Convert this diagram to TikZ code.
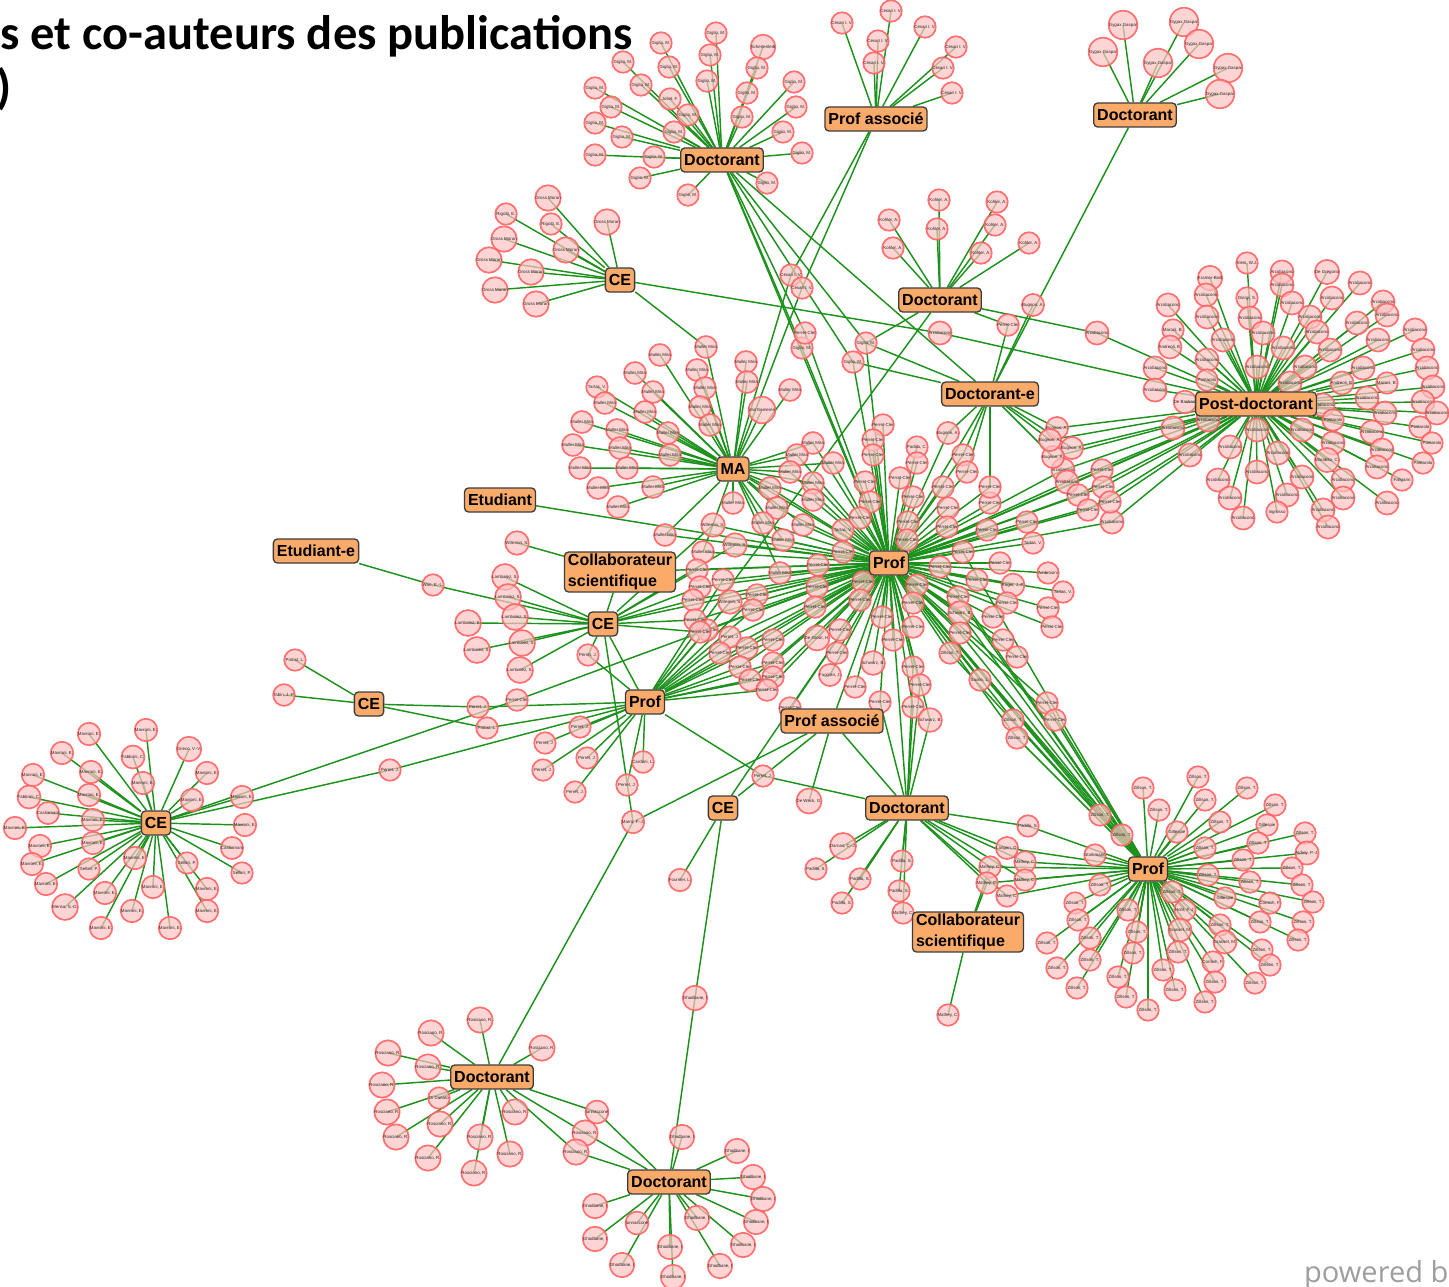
\documentclass[tikz,border=0pt]{standalone}
\usepackage{fontspec}
\setmainfont{Liberation Sans}
\newfontfamily\titlefont{Carlito}
\newfontfamily\pwfont{Open Sans}
\pgfdeclarelayer{bg}\pgfdeclarelayer{fg}\pgfsetlayers{bg,main,fg}
\definecolor{edgegreen}{RGB}{28,145,28}
\definecolor{leafpink}{RGB}{255,195,195}
\definecolor{leafred}{RGB}{255,100,100}
\definecolor{hubfill}{RGB}{250,170,105}
\definecolor{hubline}{RGB}{60,60,60}
\tikzset{
 edge/.style={draw=edgegreen, line width=1.45pt},
 leaf/.style={circle, minimum size=21.5pt, inner sep=0pt, draw=leafred, line width=1.7pt, fill=leafpink, fill opacity=0.7, draw opacity=0.9, text opacity=1, text=black!85, font=\fontsize{4.4}{5}\selectfont},
 hub/.style={rectangle, rounded corners=4pt, draw=hubline, line width=1.3pt, fill=hubfill, inner xsep=3.5pt, inner ysep=2pt, minimum height=24pt, font=\bfseries\fontsize{16}{21}\selectfont, text=black},
}
\newcommand\mkleaves[2]{\foreach \x/\y/\t [count=\i] in #2 {\node[leaf] (#1\i) at (\x,\y) {\t};}}
\newcommand\mkedges[3]{\foreach \x/\y/\t [count=\i] in #3 {\draw[edge] (#1) -- (#2\i.center);}}
\newcommand\hublinks[1]{\foreach \a/\b in {#1}{\draw[edge] (\a) -- (\b);}}
\def\nmGM{Giglio, M.}\def\nmCI{Cesari I. V.}\def\nmGG{Gygax Gaspar}\def\nmGR{Gross Moran}
\def\nmRI{Rigotti, E.}\def\nmKO{Kohler, A.}\def\nmAR{Arcidiacono}\def\nmMM{Muller Mira}
\def\nmPC{Perret-Cler}\def\nmTA{Tartas, V.}\def\nmLA{Lambalez, S.}\def\nmPJ{Perret, J.}
\def\nmZT{Zillson, T.}\def\nmMV{Mavroni, E.}\def\nmRO{Rosciano, R.}\def\nmGH{Ghodbane, I}
\def\nmPS{Padilla, S.}\def\nmMC{Mathey, C.}\def\nmBU{Bugnon, A.}\def\nmWS{Willemin, S.}
\def\nmPO{Pontarolo}\def\nmSE{Sellari, P.}\def\nmCA{Castiamani}\def\nmFC{Fabbrini, C.}
\def\nmGI{Gillespie}\def\nmGA{Grasset, M.}\def\nmCO{Cornish, F.}\def\nmSB{Schwarz, B.}
\def\nmIA{Iannaccone}\def\nmSch{Schertenleib}\def\nmJF{Jollet, F.}\def\nmKW{Klein, W.J.}
\def\nmKB{Kramer-Baill}\def\nmDGr{De Gregorio}\def\nmGS{Giorgi, S.}\def\nmMB{Maroni, B.}
\def\nmAB{Andreoli, B.}\def\nmDB{De Bastiani}\def\nmMoC{Morabito, C.}\def\nmFal{Faligarin}
\def\nmIng{Ingrosso}\def\nmGV{Grieco, V.-V.}\def\nmMS{Mensa, S.-D.}\def\nmAP{Aldrey, P.-J.}
\def\nmSt{Starkmann}\def\nmHF{Hohl, F.-J.}\def\nmVE{Van Eemeren}\def\nmPaC{Padilla, C.}
\def\nmAm{Ambrosini}\def\nmRJ{Roger, J.-P.}\def\nmDGH{De Groot, H.}\def\nmFJ{Fuggian, J.}
\def\nmSL{Saxon, L.}\def\nmLO{Langen, O.}\def\nmDC{Darnas, C.-J.}\def\nmDD{Di Donato}
\def\nmWE{Wan, E.-L.}\def\nmPL{Probst, L.}\def\nmTJ{Tabin, J.-P.}\def\nmMF{Marro, F.-J.}
\def\nmDW{De Weck, G.}\def\nmFL{Fournier, L.}\def\nmCL{Cardoni, L.}
% leaf lists
\def\lsG{716/33/\nmGM, 661/43/\nmGM, 763/47/\nmSch, 623/62/\nmGM, 710/55/\nmGM, 669/67/\nmGM, 757/68/\nmGM, 794/82/\nmGM, 595/88/\nmGM, 641/85/\nmGM, 707/81/\nmGM, 670/99/\nmJF, 747/93/\nmGM, 796/107/\nmGM, 611/107/\nmGM, 688/115/\nmGM, 742/117/\nmGM, 595/123/\nmGM, 622/137/\nmGM, 674/132/\nmGM, 783/132/\nmGM, 595/155/\nmGM, 654/157/\nmGM, 802/153/\nmGM, 640/178/\nmGM, 767/183/\nmGM, 688/195/\nmGM}
\def\lsC{842/23/\nmCI, 891/11/\nmCI, 925/27/\nmCI, 878/41/\nmCI, 956/47/\nmCI, 874/63/\nmCI, 943/68/\nmCI, 952/93/\nmCI}
\def\lsCI{791/275/\nmCI, 802/288/\nmCI}
\def\lsY{1123/25/\nmGG, 1184/22/\nmGG, 1103/52/\nmGG, 1199/44/\nmGG, 1158/63/\nmGG, 1228/68/\nmGG, 1220/94/\nmGG}
\def\lsR{548/198/\nmGR, 506/214/\nmRI, 607/222/\nmGR, 551/224/\nmRI, 504/239/\nmGR, 566/250/\nmGR, 489/260/\nmGR, 531/272/\nmGR, 495/290/\nmGR, 536/304/\nmGR}
\def\lsK{939/200/\nmKO, 997/202/\nmKO, 889/220/\nmKO, 937/229/\nmKO, 995/225/\nmKO, 893/248/\nmKO, 1029/243/\nmKO, 981/253/\nmKO}
\def\lsAK{1097/333/\nmAR}
\def\lsAG{940/333/\nmAR}
\def\lsBK{1033/305/\nmBU}
\def\lsPK{1008/325/\nmPC}
\def\lsA{1247/263/\nmKW, 1210/278/\nmKB, 1282/272/\nmAR, 1327/272/\nmDGr, 1282/285/\nmAR, 1206/295/\nmAR, 1360/283/\nmAR, 1168/305/\nmAR, 1247/298/\nmGS, 1292/303/\nmAR, 1332/298/\nmAR, 1383/302/\nmAR, 1207/317/\nmAR, 1250/318/\nmAR, 1310/317/\nmAR, 1173/330/\nmMB, 1263/333/\nmAR, 1357/323/\nmAR, 1387/315/\nmAR, 1415/330/\nmAR, 1317/332/\nmAR, 1170/347/\nmAB, 1223/340/\nmAR, 1283/348/\nmAR, 1330/350/\nmAR, 1378/340/\nmAR, 1423/350/\nmAR, 1207/360/\nmAR, 1155/368/\nmAR, 1257/367/\nmAR, 1305/367/\nmAR, 1363/368/\nmAR, 1427/368/\nmAR, 1342/383/\nmAB, 1387/383/\nmMB, 1207/380/\nmPO, 1155/390/\nmAR, 1290/383/\nmAR, 1433/387/\nmAR, 1367/398/\nmAR, 1423/402/\nmAR, 1437/413/\nmAR, 1185/402/\nmDB, 1323/405/\nmAR, 1173/428/\nmAR, 1208/420/\nmAR, 1257/430/\nmAR, 1302/430/\nmAR, 1333/420/\nmPO, 1385/413/\nmAR, 1420/427/\nmPO, 1372/432/\nmAR, 1190/455/\nmAR, 1230/447/\nmAR, 1278/453/\nmAR, 1333/443/\nmAR, 1382/450/\nmAR, 1432/443/\nmPO, 1327/460/\nmMoC, 1377/467/\nmAR, 1423/463/\nmPO, 1257/472/\nmAR, 1302/477/\nmAR, 1218/480/\nmAR, 1343/480/\nmAR, 1402/480/\nmFal, 1287/495/\nmAR, 1230/498/\nmAR, 1277/512/\nmIng, 1343/498/\nmAR, 1387/503/\nmAR, 1323/510/\nmAR, 1243/518/\nmAR, 1328/527/\nmAR}
\def\lsQP{1063/470/\nmAR, 1067/482/\nmAR, 1112/522/\nmAR, 1102/470/\nmPC, 1103/487/\nmPC, 1110/502/\nmPC, 1078/495/\nmPC, 1088/510/\nmPC}
\def\lsBU{1057/428/\nmBU, 1072/448/\nmBU, 1053/457/\nmBU, 1050/440/\nmBU}
\def\lsM{706/347/\nmMM, 660/355/\nmMM, 697/370/\nmMM, 746/362/\nmMM, 635/373/\nmMM, 653/392/\nmMM, 705/388/\nmMM, 747/382/\nmMM, 790/390/\nmMM, 597/387/\nmTA, 605/403/\nmMM, 645/412/\nmMM, 700/407/\nmMM, 762/410/\nmVE, 582/422/\nmMM, 617/430/\nmMM, 710/425/\nmMM, 668/433/\nmMM, 573/445/\nmMM, 620/448/\nmMM, 670/455/\nmMM, 580/468/\nmMM, 627/468/\nmMM, 598/488/\nmMM, 653/487/\nmMM, 618/507/\nmMM, 733/503/\nmMM}
\def\lsMP{813/443/\nmMM, 797/455/\nmMM, 833/463/\nmMM, 790/472/\nmMM, 813/483/\nmMM, 770/488/\nmMM, 813/500/\nmMM, 777/508/\nmMM, 763/523/\nmMM, 803/525/\nmMM, 783/540/\nmMM, 780/573/\nmMM, 665/535/\nmMM, 703/552/\nmMM}
\def\lsP{883/425/\nmPC, 873/440/\nmPC, 917/447/\nmPaC, 873/455/\nmPC, 917/463/\nmPC, 900/478/\nmPC, 865/482/\nmPC, 943/487/\nmPC, 913/497/\nmPC, 870/502/\nmPC, 948/508/\nmPC, 990/503/\nmPC, 860/518/\nmPC, 908/522/\nmPC, 947/527/\nmPC, 1027/522/\nmPC, 987/530/\nmPC, 843/530/\nmTA, 907/540/\nmPC, 1033/543/\nmTA, 843/552/\nmPC, 1000/563/\nmPC, 818/565/\nmPC, 1048/573/\nmAm, 977/580/\nmPC, 863/582/\nmPC, 917/585/\nmPC, 1013/585/\nmRJ, 817/587/\nmPC, 1063/592/\nmTA, 860/600/\nmPC, 1007/603/\nmPC, 913/603/\nmPC, 815/607/\nmPC, 1048/608/\nmPC, 882/617/\nmPC, 993/617/\nmPC, 1052/627/\nmPC, 913/627/\nmPC, 840/630/\nmPC, 1003/640/\nmPC, 817/638/\nmDGH, 893/640/\nmPC, 1017/657/\nmPC, 837/653/\nmPC, 830/675/\nmFJ, 873/663/\nmSB, 980/680/\nmSL, 855/687/\nmPC, 790/708/\nmPC}
\def\lsDEP{948/433/\nmBU, 963/455/\nmPC, 967/472/\nmPC, 990/487/\nmPC}
\def\lsPRP{940/567/\nmPC, 963/552/\nmPC, 958/597/\nmPC, 960/613/\nmSB, 960/633/\nmPC, 950/653/\nmZT, 1013/720/\nmZT, 1017/738/\nmZT, 1047/703/\nmPC, 1055/720/\nmPC, 1100/815/\nmZT, 1122/835/\nmZT}
\def\lsDLP{913/667/\nmPC, 920/685/\nmPC, 880/702/\nmPC, 913/707/\nmPC, 930/720/\nmSB}
\def\lsDGP{866/343/\nmGM, 853/362/\nmGM, 802/348/\nmGM, 805/333/\nmPC}
\def\lsXP{723/580/\nmPC, 757/595/\nmPC, 730/602/\nmWS, 753/610/\nmPC, 707/630/\nmPC, 730/637/\nmPJ, 773/640/\nmPC, 747/648/\nmPC, 720/653/\nmPC, 740/667/\nmPC, 773/663/\nmPC, 750/680/\nmPC, 773/677/\nmPC, 767/690/\nmPC}
\def\lsWP{713/525/\nmWS, 735/545/\nmWS, 697/570/\nmPC, 700/587/\nmPC, 693/600/\nmPC, 695/620/\nmPC, 700/632/\nmPC}
\def\lsL{505/577/\nmLA, 508/597/\nmLA, 515/617/\nmLA, 468/623/\nmLA, 522/643/\nmLA, 477/650/\nmLA, 520/670/\nmLA}
\def\lsPJL{588/655/\nmPJ}
\def\lsWN{433/585/\nmWE}
\def\lsWI{517/543/\nmWS}
\def\lsCX{295/660/\nmPL, 284/695/\nmTJ}
\def\lsCY{478/707/\nmPJ, 487/728/\nmPL}
\def\lsCF{517/700/\nmPC}
\def\lsCG{390/770/\nmPJ}
\def\lsJ{580/727/\nmPJ, 545/743/\nmPJ, 587/758/\nmPJ, 543/770/\nmPJ, 575/792/\nmPJ, 643/762/\nmCL, 627/785/\nmPJ}
\def\lsPJ{763/776/\nmPJ}
\def\lsMR{633/822/\nmMF}
\def\lsDW{809/801/\nmDW}
\def\lsFO{680/880/\nmFL}
\def\lsGH{695/998/\nmGH}
\def\lsE{146/730/\nmMV, 89/734/\nmMV, 62/753/\nmMV, 133/757/\nmFC, 189/749/\nmGV, 33/775/\nmMV, 91/772/\nmMV, 207/773/\nmMV, 143/783/\nmMV, 29/797/\nmFC, 89/795/\nmMV, 192/800/\nmMV, 242/797/\nmMV, 48/813/\nmCA, 93/820/\nmMV, 15/828/\nmMV, 245/825/\nmMV, 40/846/\nmMV, 93/843/\nmMV, 232/848/\nmCA, 32/864/\nmMV, 89/869/\nmSE, 135/858/\nmMV, 187/863/\nmSE, 46/884/\nmMV, 242/873/\nmSE, 105/893/\nmMV, 153/887/\nmMV, 207/889/\nmMV, 65/907/\nmMS, 132/911/\nmMV, 207/911/\nmMV, 101/928/\nmMV, 170/928/\nmMV}
\def\lsD{843/846/\nmDC, 816/869/\nmPS, 902/861/\nmPS, 860/879/\nmPS, 899/891/\nmPS, 842/903/\nmPS, 903/913/\nmMC}
\def\lsMC{1028/826/\nmPS, 1007/848/\nmLO, 990/867/\nmMC, 1025/862/\nmMC, 987/883/\nmMC, 1025/880/\nmMC, 1007/896/\nmMC}
\def\lsMB{948/1015/\nmMC}
\def\lsZ{1198/777/\nmZT, 1143/788/\nmZT, 1247/788/\nmZT, 1205/800/\nmZT, 1159/810/\nmZT, 1275/805/\nmZT, 1220/822/\nmZT, 1267/825/\nmGI, 1177/832/\nmGI, 1305/833/\nmZT, 1258/843/\nmZT, 1205/848/\nmZT, 1307/853/\nmAP, 1095/855/\nmSt, 1243/860/\nmZT, 1292/868/\nmZT, 1208/875/\nmZT, 1250/882/\nmZT, 1100/885/\nmZT, 1302/885/\nmZT, 1172/892/\nmZT, 1313/902/\nmZT, 1225/898/\nmGI, 1075/903/\nmZT, 1185/910/\nmHF, 1270/903/\nmCO, 1128/910/\nmZT, 1260/922/\nmZT, 1303/922/\nmZT, 1078/920/\nmZT, 1180/930/\nmGA, 1137/932/\nmZT, 1220/925/\nmZT, 1090/938/\nmZT, 1225/942/\nmGA, 1298/940/\nmZT, 1047/943/\nmZT, 1133/953/\nmZT, 1178/952/\nmZT, 1262/950/\nmZT, 1090/960/\nmZT, 1057/968/\nmZT, 1213/962/\nmCO, 1270/965/\nmZT, 1118/977/\nmZT, 1163/970/\nmZT, 1215/982/\nmZT, 1175/990/\nmZT, 1255/983/\nmZT, 1077/988/\nmZT, 1126/997/\nmZT, 1205/1002/\nmZT, 1148/1010/\nmZT}
\def\lsB{480/1020/\nmRO, 431/1033/\nmRO, 542/1048/\nmRO, 388/1053/\nmRO, 428/1067/\nmRO, 382/1085/\nmRO, 439/1098/\nmDD, 387/1112/\nmRO, 515/1112/\nmRO, 440/1124/\nmRO, 396/1137/\nmRO, 480/1137/\nmRO, 510/1154/\nmRO, 428/1158/\nmRO, 474/1173/\nmRO}
\def\lsBB{597/1112/\nmIA, 585/1133/\nmRO, 576/1152/\nmRO}
\def\lsH{682/1137/\nmGH, 737/1151/\nmGH, 753/1177/\nmGH, 763/1199/\nmGH, 595/1206/\nmGH, 756/1222/\nmGH, 697/1218/\nmGH, 637/1223/\nmIA, 595/1239/\nmGH, 743/1245/\nmGH, 670/1247/\nmGH, 622/1265/\nmGH, 720/1266/\nmGH, 673/1277/\nmGH}
\begin{document}
\begin{tikzpicture}[x=1pt,y=-1pt]
\useasboundingbox (0,0) rectangle (1449,1287);
% hubs
\begin{pgfonlayer}{fg}
\node[hub] (DG) at (722,160) {Doctorant};
\node[hub] (PAT) at (876,119) {Prof associé};
\node[hub] (DGy) at (1135,115) {Doctorant};
\node[hub] (CEG) at (620,280) {CE};
\node[hub] (DK) at (940,300) {Doctorant};
\node[hub] (DE) at (990,394) {Doctorant-e};
\node[hub] (PD) at (1256,404) {Post-doctorant};
\node[hub] (MA) at (733,469) {MA};
\node[hub] (ET) at (500,500) {Etudiant};
\node[hub] (ETE) at (316,551) {Etudiant-e};
\node[hub, align=left] (CS1) at (620,572) {Collaborateur\\scientifique};
\node[hub] (P) at (889,563) {Prof};
\node[hub] (CEL) at (603,624) {CE};
\node[hub] (CES) at (369,704) {CE};
\node[hub] (PL) at (645,702) {Prof};
\node[hub] (PAL) at (832,721) {Prof associé};
\node[hub] (CEB) at (723,808) {CE};
\node[hub] (DL) at (907,808) {Doctorant};
\node[hub] (CEF) at (156,823) {CE};
\node[hub] (PR) at (1148,869) {Prof};
\node[hub, align=left] (CS2) at (968,932) {Collaborateur\\scientifique};
\node[hub] (DB1) at (492,1077) {Doctorant};
\node[hub] (DB2) at (669,1182) {Doctorant};
\end{pgfonlayer}
% title and footer
\node[anchor=base west, inner sep=0pt, font=\titlefont\bfseries\fontsize{48.5}{54}\selectfont] (title) at (0,50) {s et co-auteurs des publications};
\node[anchor=base east, inner sep=0pt, font=\titlefont\bfseries\fontsize{48.5}{54}\selectfont] (paren) at (12,104) {)};
\node[anchor=base west, inner sep=0pt, font=\pwfont\fontsize{29}{32}\selectfont, text=black!38] (powered) at (1304,1282) {powered b};
% leaves
\mkleaves{g}{\lsG}\mkleaves{c}{\lsC}\mkleaves{ci}{\lsCI}\mkleaves{y}{\lsY}
\mkleaves{r}{\lsR}\mkleaves{k}{\lsK}\mkleaves{ak}{\lsAK}\mkleaves{ag}{\lsAG}
\mkleaves{bk}{\lsBK}\mkleaves{pk}{\lsPK}\mkleaves{a}{\lsA}\mkleaves{qp}{\lsQP}
\mkleaves{bu}{\lsBU}\mkleaves{m}{\lsM}\mkleaves{mp}{\lsMP}\mkleaves{p}{\lsP}
\mkleaves{dep}{\lsDEP}\mkleaves{prp}{\lsPRP}\mkleaves{dlp}{\lsDLP}\mkleaves{dgp}{\lsDGP}
\mkleaves{xp}{\lsXP}\mkleaves{wp}{\lsWP}\mkleaves{l}{\lsL}\mkleaves{pjl}{\lsPJL}
\mkleaves{wn}{\lsWN}\mkleaves{wi}{\lsWI}\mkleaves{cx}{\lsCX}\mkleaves{cy}{\lsCY}
\mkleaves{cf}{\lsCF}\mkleaves{cg}{\lsCG}\mkleaves{j}{\lsJ}\mkleaves{pj}{\lsPJ}
\mkleaves{mr}{\lsMR}\mkleaves{dw}{\lsDW}\mkleaves{fo}{\lsFO}\mkleaves{gh}{\lsGH}
\mkleaves{e}{\lsE}\mkleaves{d}{\lsD}\mkleaves{mc}{\lsMC}\mkleaves{mb}{\lsMB}
\mkleaves{z}{\lsZ}\mkleaves{b}{\lsB}\mkleaves{bb}{\lsBB}\mkleaves{h}{\lsH}
% connectors
\begin{pgfonlayer}{bg}
\fill[white] (0,0) rectangle (1449,1287);
\hublinks{PD/P, DG/P, DG/DE, DGy/DE, DK/PL, ET/P, CS1/CEL, CS1/P, CEL/PL, CEL/P, PL/P, PAL/P, PAL/DL, PAL/CEB, CEB/P, DL/P, PR/P, MA/P, DE/P}
\hublinks{DK/dgp1.center, DE/dgp1.center, DE/dgp2.center, CEG/m1.center, DE/pk1.center, DB1/mr1.center, CS2/mc3.center, CS2/mc5.center}
\mkedges{DG}{g}{\lsG}\mkedges{PAT}{c}{\lsC}\mkedges{PAT}{ci}{\lsCI}\mkedges{MA}{ci}{\lsCI}
\mkedges{DGy}{y}{\lsY}\mkedges{CEG}{r}{\lsR}\mkedges{DK}{k}{\lsK}
\mkedges{DK}{ak}{\lsAK}\mkedges{PD}{ak}{\lsAK}\mkedges{CEG}{ag}{\lsAG}\mkedges{PD}{ag}{\lsAG}
\mkedges{DE}{bk}{\lsBK}\mkedges{DK}{pk}{\lsPK}
\mkedges{PD}{a}{\lsA}\mkedges{P}{qp}{\lsQP}\mkedges{PD}{qp}{\lsQP}
\mkedges{DE}{bu}{\lsBU}\mkedges{PD}{bu}{\lsBU}
\mkedges{MA}{m}{\lsM}\mkedges{P}{mp}{\lsMP}\mkedges{MA}{mp}{\lsMP}
\mkedges{P}{p}{\lsP}
\mkedges{P}{dep}{\lsDEP}\mkedges{DE}{dep}{\lsDEP}
\mkedges{P}{prp}{\lsPRP}\mkedges{PR}{prp}{\lsPRP}
\mkedges{P}{dlp}{\lsDLP}\mkedges{DL}{dlp}{\lsDLP}
\mkedges{P}{dgp}{\lsDGP}\mkedges{DG}{dgp}{\lsDGP}
\mkedges{P}{xp}{\lsXP}\mkedges{PL}{xp}{\lsXP}
\mkedges{P}{wp}{\lsWP}\mkedges{CEL}{wp}{\lsWP}
\mkedges{CEL}{l}{\lsL}\mkedges{CEL}{pjl}{\lsPJL}\mkedges{PL}{pjl}{\lsPJL}
\mkedges{ETE}{wn}{\lsWN}\mkedges{CEL}{wn}{\lsWN}\mkedges{CS1}{wi}{\lsWI}
\mkedges{CES}{cx}{\lsCX}\mkedges{CES}{cy}{\lsCY}\mkedges{PL}{cy}{\lsCY}
\mkedges{CEF}{cf}{\lsCF}\mkedges{P}{cf}{\lsCF}\mkedges{CEF}{cg}{\lsCG}\mkedges{PL}{cg}{\lsCG}
\mkedges{PL}{j}{\lsJ}\mkedges{PL}{pj}{\lsPJ}\mkedges{DL}{pj}{\lsPJ}
\mkedges{CEL}{mr}{\lsMR}\mkedges{PAL}{mr}{\lsMR}\mkedges{PAL}{dw}{\lsDW}
\mkedges{CEB}{fo}{\lsFO}\mkedges{CEB}{gh}{\lsGH}\mkedges{DB2}{gh}{\lsGH}
\mkedges{CEF}{e}{\lsE}\mkedges{DL}{d}{\lsD}\mkedges{DL}{mc}{\lsMC}\mkedges{PR}{mc}{\lsMC}
\mkedges{CS2}{mb}{\lsMB}\mkedges{PR}{z}{\lsZ}
\mkedges{DB1}{b}{\lsB}\mkedges{DB1}{bb}{\lsBB}\mkedges{DB2}{bb}{\lsBB}\mkedges{DB2}{h}{\lsH}
\end{pgfonlayer}
\end{tikzpicture}
\end{document}
